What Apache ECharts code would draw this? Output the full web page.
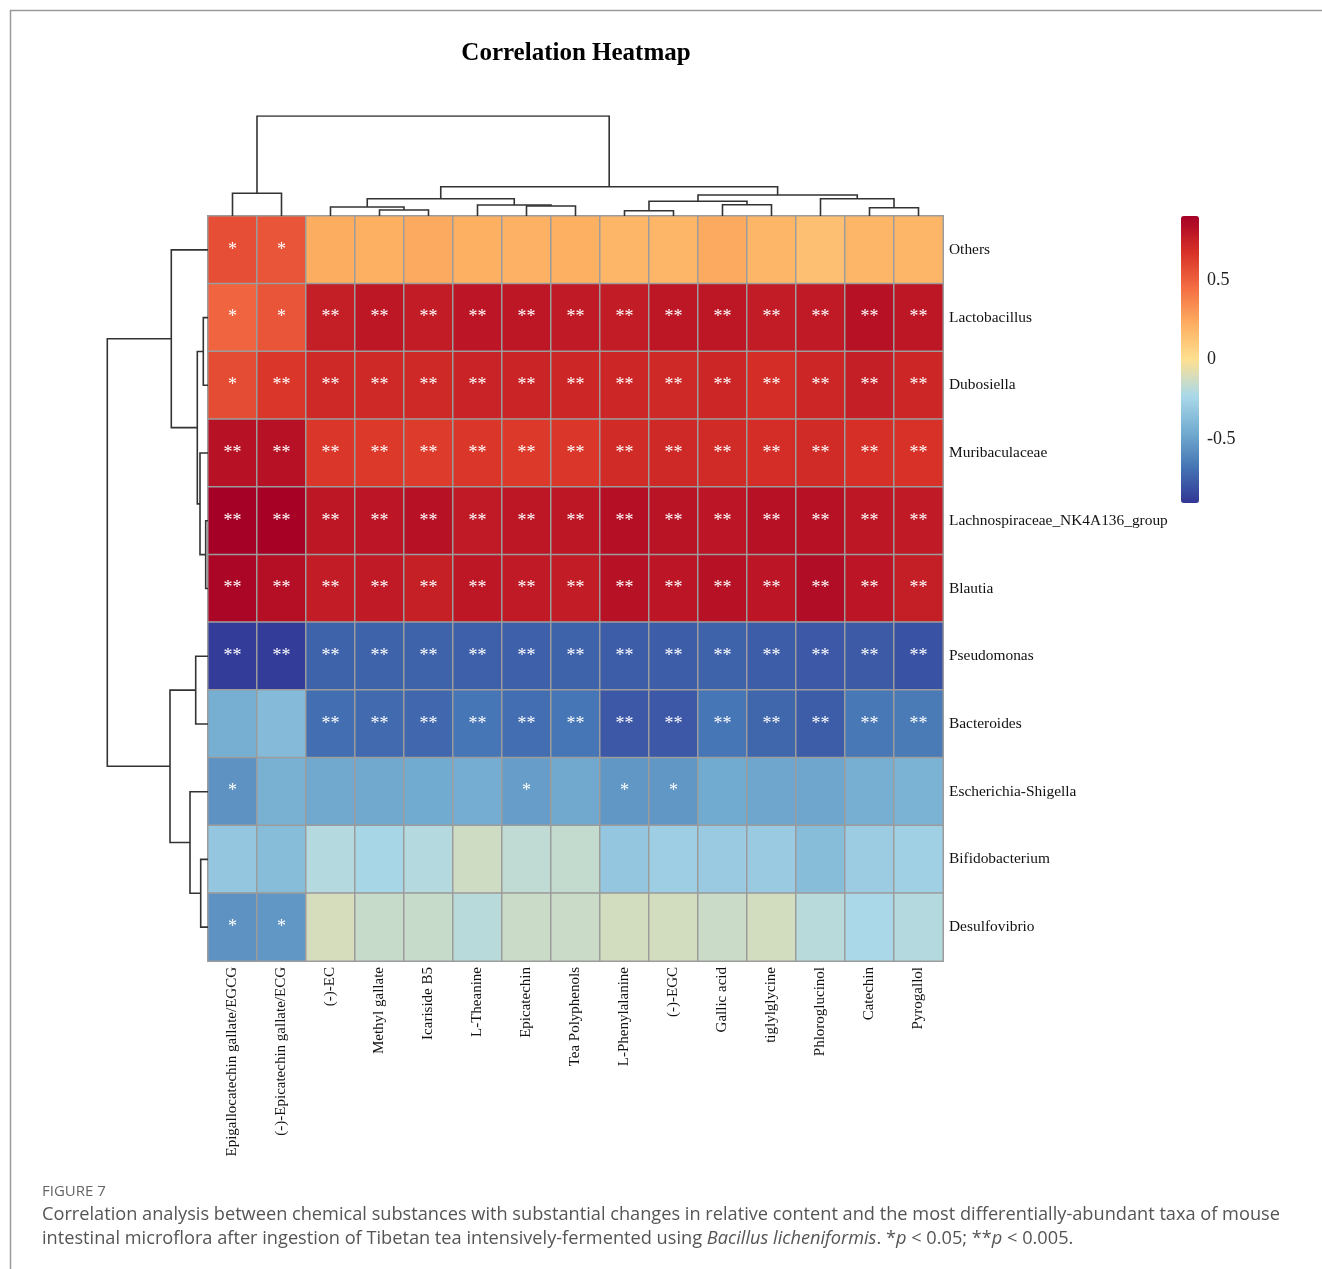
<!DOCTYPE html>
<html><head><meta charset="utf-8">
<script src="https://cdn.jsdelivr.net/npm/echarts@6/dist/echarts.min.js"></script>
<style>html,body{margin:0;padding:0;background:#fff}#c{width:1322px;height:1269px}</style>
</head><body><div id="c"></div>
<script>
// ---------- data ----------
const metabolites = ['Epigallocatechin gallate/EGCG','(-)-Epicatechin gallate/ECG','(-)-EC','Methyl gallate','Icariside B5','L-Theanine','Epicatechin','Tea Polyphenols','L-Phenylalanine','(-)-EGC','Gallic acid','tiglylglycine','Phloroglucinol','Catechin','Pyrogallol'];
const taxa = ['Others','Lactobacillus','Dubosiella','Muribaculaceae','Lachnospiraceae_NK4A136_group','Blautia','Pseudomonas','Bacteroides','Escherichia-Shigella','Bifidobacterium','Desulfovibrio'];

// correlation coefficients, one array per taxon (columns in metabolite order)
const corrOthers          = [0.56,0.54,0.23,0.22,0.24,0.22,0.21,0.22,0.19,0.19,0.24,0.19,0.15,0.19,0.19];
const corrLactobacillus   = [0.48,0.54,0.76,0.79,0.77,0.80,0.79,0.78,0.77,0.79,0.79,0.77,0.78,0.82,0.79];
const corrDubosiella      = [0.57,0.65,0.71,0.71,0.71,0.74,0.73,0.72,0.72,0.71,0.72,0.69,0.72,0.76,0.72];
const corrMuribaculaceae  = [0.82,0.82,0.65,0.64,0.63,0.65,0.64,0.65,0.70,0.71,0.70,0.69,0.70,0.68,0.67];
const corrLachnospiraceae = [0.90,0.89,0.79,0.80,0.82,0.78,0.79,0.79,0.83,0.81,0.80,0.82,0.82,0.79,0.78];
const corrBlautia         = [0.87,0.83,0.77,0.78,0.75,0.79,0.78,0.77,0.82,0.80,0.82,0.80,0.84,0.80,0.76];
const corrPseudomonas     = [-0.88,-0.88,-0.74,-0.74,-0.74,-0.75,-0.75,-0.74,-0.76,-0.76,-0.74,-0.76,-0.78,-0.77,-0.80];
const corrBacteroides     = [-0.44,-0.38,-0.70,-0.71,-0.72,-0.67,-0.70,-0.67,-0.78,-0.78,-0.67,-0.73,-0.76,-0.66,-0.65];
const corrEscherichia     = [-0.56,-0.43,-0.47,-0.47,-0.46,-0.45,-0.51,-0.47,-0.54,-0.54,-0.46,-0.48,-0.48,-0.44,-0.42];
const corrBifidobacterium = [-0.32,-0.37,-0.20,-0.24,-0.20,-0.13,-0.17,-0.16,-0.32,-0.28,-0.30,-0.30,-0.37,-0.29,-0.27];
const corrDesulfovibrio   = [-0.56,-0.54,-0.11,-0.15,-0.15,-0.19,-0.14,-0.14,-0.12,-0.12,-0.14,-0.12,-0.19,-0.23,-0.20];

// significance marks (* p<0.05, ** p<0.005)
const sigOthers          = ['*','*','','','','','','','','','','','','',''];
const sigLactobacillus   = ['*','*','**','**','**','**','**','**','**','**','**','**','**','**','**'];
const sigDubosiella      = ['*','**','**','**','**','**','**','**','**','**','**','**','**','**','**'];
const sigMuribaculaceae  = ['**','**','**','**','**','**','**','**','**','**','**','**','**','**','**'];
const sigLachnospiraceae = ['**','**','**','**','**','**','**','**','**','**','**','**','**','**','**'];
const sigBlautia         = ['**','**','**','**','**','**','**','**','**','**','**','**','**','**','**'];
const sigPseudomonas     = ['**','**','**','**','**','**','**','**','**','**','**','**','**','**','**'];
const sigBacteroides     = ['','','**','**','**','**','**','**','**','**','**','**','**','**','**'];
const sigEscherichia     = ['*','','','','','','*','','*','*','','','','',''];
const sigBifidobacterium = ['','','','','','','','','','','','','','',''];
const sigDesulfovibrio   = ['*','*','','','','','','','','','','','','',''];

// hierarchical clustering merges (R hclust style: -k = leaf k (1-based, display order), j = earlier merge j)
const colMerges = [
  [-4,-5,6],[-9,-10,5.3],[-14,-15,8.3],[-3,1,9],[-7,-8,10],[-6,5,11],[-11,-12,11.3],
  [2,7,14.7],[4,6,17.3],[-13,3,17.3],[8,10,21],[-1,-2,22.7],[9,11,29.3],[12,13,100]
];
const rowMerges = [
  [-5,-6,2.3],[-2,-3,4.7],[-10,-11,7.3],[-4,1,8],[2,4,10.7],[-7,-8,12.3],[-9,3,18],
  [-1,5,36.7],[6,7,38],[8,9,100.7]
];

const colorTicks = [-0.5, 0, 0.5];
const palette = ['#313695','#4575B4','#74ADD1','#ABD9E9','#FEE090','#FDAE61','#F46D43','#D73027','#A50026'];

// ---------- build ----------
const corr = [corrOthers,corrLactobacillus,corrDubosiella,corrMuribaculaceae,corrLachnospiraceae,corrBlautia,corrPseudomonas,corrBacteroides,corrEscherichia,corrBifidobacterium,corrDesulfovibrio];
const sig = [sigOthers,sigLactobacillus,sigDubosiella,sigMuribaculaceae,sigLachnospiraceae,sigBlautia,sigPseudomonas,sigBacteroides,sigEscherichia,sigBifidobacterium,sigDesulfovibrio];
const heatData = [];
corr.forEach((row, y) => row.forEach((v, x) => heatData.push([x, y, v])));

function dendro(merges, swap) {
  const pos = [], hgt = [], segs = [];
  const get = id => id < 0 ? [(-id - 1) + 0.5, 0] : [pos[id - 1], hgt[id - 1]];
  merges.forEach(([a, b, h]) => {
    const [pa, ha] = get(a), [pb, hb] = get(b);
    let c = [[pa, ha], [pa, h], [pb, h], [pb, hb]];
    if (swap) c = c.map(p => [p[1], p[0]]);
    segs.push({ coords: c });
    pos.push((pa + pb) / 2); hgt.push(h);
  });
  return segs;
}

const serif = '"Liberation Serif", "Times New Roman", serif';
const chart = echarts.init(document.getElementById('c'), null, { renderer: 'canvas' });
const hmL = 208, hmT = 216, hmW = 735, hmH = 745;

chart.setOption({
  animation: false,
  backgroundColor: '#fff',
  grid: [
    { left: hmL, top: hmT, width: hmW, height: hmH },           // heatmap
    { left: hmL, top: 116, width: hmW, height: 100 },           // column dendrogram
    { left: 107, top: hmT, width: 101, height: hmH },           // row dendrogram
    { left: 1181, top: 216, width: 18, height: 287 }            // colour bar axis
  ],
  xAxis: [
    { gridIndex: 0, type: 'category', data: metabolites, position: 'bottom',
      axisLine: { show: false }, axisTick: { show: false }, splitLine: { show: false },
      axisLabel: { interval: 0, rotate: 90, margin: 6, fontFamily: serif, fontSize: 15, color: '#111' } },
    { gridIndex: 1, type: 'value', min: 0, max: 15, show: false },
    { gridIndex: 2, type: 'value', min: 0, max: 101, inverse: true, show: false },
    { gridIndex: 3, type: 'value', min: 0, max: 1, show: false }
  ],
  yAxis: [
    { gridIndex: 0, type: 'category', data: taxa, inverse: true, position: 'right',
      axisLine: { show: false }, axisTick: { show: false }, splitLine: { show: false },
      axisLabel: { interval: 0, margin: 6, fontFamily: serif, fontSize: 15.4, color: '#111' } },
    { gridIndex: 1, type: 'value', min: 0, max: 100, show: false },
    { gridIndex: 2, type: 'value', min: 0, max: 11, inverse: true, show: false },
    { gridIndex: 3, type: 'value', min: -0.9, max: 0.9, interval: 0.1, position: 'right',
      axisLine: { show: false }, axisTick: { show: false }, splitLine: { show: false },
      axisLabel: { margin: 8, fontFamily: serif, fontSize: 18, color: '#222',
        formatter: v => { const t = colorTicks.find(c => Math.abs(c - v) < 1e-6); return t === undefined ? '' : String(t); } } }
  ],
  visualMap: {
    type: 'continuous', seriesIndex: 0, min: -0.9, max: 0.9, calculable: false, hoverLink: false,
    orient: 'vertical', left: 1181, top: 216, itemWidth: 18, itemHeight: 287, padding: 0,
    inRange: { color: palette }
  },
  series: [
    { type: 'heatmap', xAxisIndex: 0, yAxisIndex: 0, data: heatData, silent: true,
      itemStyle: { borderColor: '#9c9c9c', borderWidth: 1.5 },
      label: { show: true, color: '#fff', fontFamily: serif, fontSize: 18,
        formatter: p => sig[p.data[1]][p.data[0]] },
      emphasis: { disabled: true } },
    { type: 'lines', coordinateSystem: 'cartesian2d', xAxisIndex: 1, yAxisIndex: 1, polyline: true, silent: true,
      lineStyle: { color: '#333', width: 1.6, opacity: 1 }, data: dendro(colMerges, false) },
    { type: 'lines', coordinateSystem: 'cartesian2d', xAxisIndex: 2, yAxisIndex: 2, polyline: true, silent: true,
      lineStyle: { color: '#333', width: 1.6, opacity: 1 }, data: dendro(rowMerges, true) }
  ],
  graphic: [
    { type: 'polyline', silent: true, shape: { points: [[10.5, 1269], [10.5, 10.5], [1322, 10.5]] },
      style: { stroke: '#9a9a9a', lineWidth: 1.5, fill: null } },
    { type: 'text', silent: true, x: 576, y: 54,
      style: { text: 'Correlation Heatmap', font: 'bold 25px ' + serif, fill: '#000', textAlign: 'center', textVerticalAlign: 'middle' } },
    { type: 'text', silent: true, x: 42, y: 1192,
      style: { text: 'FIGURE 7', font: '15px "Open Sans", sans-serif', fill: '#666', textVerticalAlign: 'middle' } },
    { type: 'text', silent: true, x: 42, y: 1215,
      style: { text: 'Correlation analysis between chemical substances with substantial changes in relative content and the most differentially-abundant taxa of mouse',
        font: '18.2px "Open Sans", sans-serif', fill: '#555', textVerticalAlign: 'middle' } },
    { type: 'text', silent: true, x: 42, y: 1239,
      style: { text: 'intestinal microflora after ingestion of Tibetan tea intensively-fermented using {i|Bacillus licheniformis}. *{i|p} < 0.05; **{i|p} < 0.005.',
        font: '18.2px "Open Sans", sans-serif', fill: '#555', textVerticalAlign: 'middle',
        rich: { i: { fontStyle: 'italic', fontFamily: '"Open Sans", sans-serif', fontSize: 18.2, fill: '#555' } } } }
  ]
});
</script></body></html>
